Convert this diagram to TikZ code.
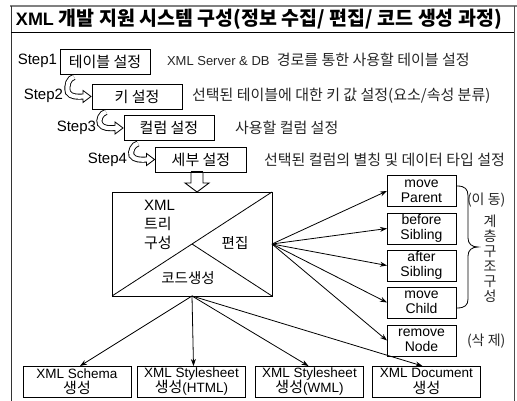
\documentclass[tikz,border=0pt]{standalone}
\usepackage{fontspec}
\setmainfont{Liberation Sans}
\newfontfamily\kr{Noto Sans CJK KR}
\usetikzlibrary{arrows.meta,calc}
\newcommand\hookarr[2]{%
  \path ($(#1.south west)+(14,3)$) coordinate (hs);
  \path ($(#2.west)+(-9,0)$) coordinate (he);
  \draw[line width=6pt] (hs) .. controls ($(hs)+(-5,1)$) and ($(hs)+(-8,8)$) .. ($(he)+(-15,-4)$)
     .. controls ($(he)+(-12,0.5)$) and ($(he)+(-6,0.5)$) .. (he);
  \draw[line width=0.8pt, fill=white] ($(he)+(0,-6)$) -- ($(he)+(8,0)$) -- ($(he)+(0,6)$) -- cycle;
  \draw[white, line width=4.2pt] (hs) .. controls ($(hs)+(-5,1)$) and ($(hs)+(-8,8)$) .. ($(he)+(-15,-4)$)
     .. controls ($(he)+(-12,0.5)$) and ($(he)+(-6,0.5)$) .. ($(he)+(1.2,0)$);
}
\begin{document}
\begin{tikzpicture}[x=1pt,y=-1pt,
  every node/.style={inner sep=0pt, outer sep=0pt},
  stepbox/.style={draw, line width=0.9pt, minimum width=90pt, minimum height=25pt, font=\kr\fontsize{15}{15}\selectfont},
  steplbl/.style={anchor=east, font=\fontsize{15}{15}\selectfont},
  desc/.style={anchor=west, font=\fontsize{13}{13}\selectfont, text=black!85},
  kd/.style={font=\kr\fontsize{15}{15}\selectfont},
  opbox/.style={draw, line width=0.8pt, minimum width=69pt, minimum height=31pt, align=center, font=\fontsize{14}{15}\selectfont},
  outbox/.style={draw, line width=0.8pt, minimum width=108pt, minimum height=31pt, align=center, font=\fontsize{13.5}{15.5}\selectfont},
  arr/.style={-{Stealth[length=7pt,width=5pt]}, line width=0.8pt},
  side/.style={font=\kr\fontsize{14}{15}\selectfont, text=black!85},
]
\useasboundingbox (0,0) rectangle (517,401);
% frame
\draw[black!50, line width=1.6pt] (10,6) -- (517,6);
\draw[black!80, line width=1pt] (11,6) -- (11,401);
\draw[black!70, line width=1pt] (514,6) -- (514,401);
\draw[line width=0.8pt] (11,32) -- (514,32);
% title
\node[anchor=west, font=\fontsize{18}{18}\selectfont\bfseries] (title) at (16,19)
  {XML {\kr\fontsize{19.5}{19.5}\selectfont 개발 지원 시스템 구성(정보 수집/ 편집/ 코드 생성 과정)}};
% steps
\node[stepbox] (b1) at (105,61.5) {테이블 설정};
\node[stepbox] (b2) at (137,96.5) {키 설정};
\node[stepbox] (b3) at (169,128) {컬럼 설정};
\node[stepbox, minimum width=91pt] (b4) at (201,159.5) {세부 설정};
\node[steplbl] (s1) at (57,61) {Step1};
\node[steplbl] (s2) at (63,96) {Step2};
\node[steplbl] (s3) at (96,128) {Step3};
\node[steplbl] (s4) at (127,160) {Step4};
\node[desc] (d1) at (167,60) {XML Server \& DB\ \ {\kr\fontsize{15}{15}\selectfont 경로를 통한 사용할 테이블 설정}};
\node[desc, kd] (d2) at (192,96) {선택된 테이블에 대한 키 값 설정(요소/속성 분류)};
\node[desc, kd] (d3) at (235,128) {사용할 컬럼 설정};
\node[desc, kd] (d4) at (264,160) {선택된 컬럼의 별칭 및 데이터 타입 설정};
\hookarr{b1}{b2}
\hookarr{b2}{b3}
\hookarr{b3}{b4}
% hollow down arrow
\draw[line width=0.9pt, fill=white] (191,172) -- (191,183) -- (185,183) -- (197,192) -- (209,183) -- (203,183) -- (203,172);
\draw[line width=2pt] (191,172) -- (203,172);
% big box
\node[draw, line width=0.9pt, minimum width=160pt, minimum height=104pt] (big) at (192,244) {};
\draw[line width=0.8pt] (big.north east) -- (big.south west);
\draw[line width=0.8pt] (big.center) -- (big.south east);
\node[anchor=west, align=left, font=\fontsize{15}{19}\selectfont] (tree) at (144,225) {XML\\{\kr 트리}\\{\kr 구성}};
\node[font=\kr\fontsize{14.5}{14.5}\selectfont] (edit) at (235,243) {편집};
\node[font=\kr\fontsize{14.5}{14.5}\selectfont] (gen) at (188,278) {코드생성};
% operation boxes
\node[opbox] (r1) at (421.5,191) {move\\Parent};
\node[opbox] (r2) at (421.5,228.5) {before\\Sibling};
\node[opbox] (r3) at (421.5,265.5) {after\\Sibling};
\node[opbox] (r4) at (421.5,302.5) {move\\Child};
\node[opbox] (r5) at (421.5,340.5) {remove\\Node};
\foreach \r in {r1,r2,r3,r4,r5} \draw[arr] (big.east) -- (\r.west);
% brace
\draw[line width=0.8pt] (457,186) .. controls (465,186) and (468,189) .. (468,196) -- (468,238)
  .. controls (468,244) and (472,247) .. (478,247) .. controls (472,247) and (468,250) .. (468,256)
  -- (468,299) .. controls (468,305) and (465,308) .. (457,308);
\node[side, anchor=west] (move) at (467,200) {(이 동)};
\node[side, align=center] (vt) at (490,259) {계\\층\\구\\조\\구\\성};
\node[side, anchor=west] (del) at (467,341) {(삭 제)};
% output boxes
\node[outbox] (o1) at (77,381.5) {XML Schema\\{\kr\fontsize{15}{15}\selectfont 생성}};
\node[outbox] (o2) at (191.5,381.5) {XML Stylesheet\\{\kr\fontsize{15}{15}\selectfont 생성}(HTML)};
\node[outbox] (o3) at (309.5,381.5) {XML Stylesheet\\{\kr\fontsize{15}{15}\selectfont 생성}(WML)};
\node[outbox] (o4) at (426.5,381.5) {XML Document\\{\kr\fontsize{15}{15}\selectfont 생성}};
\draw[arr] (big.south) -- ($(o1.north)+(3,0)$);
\draw[arr] (big.south) -- ($(o2.north)+(2,0)$);
\draw[arr] (big.south) -- ($(o3.north)+(-1,0)$);
\draw[arr] (big.south) -- ($(o4.north)+(-4,0)$);
\end{tikzpicture}
\end{document}
